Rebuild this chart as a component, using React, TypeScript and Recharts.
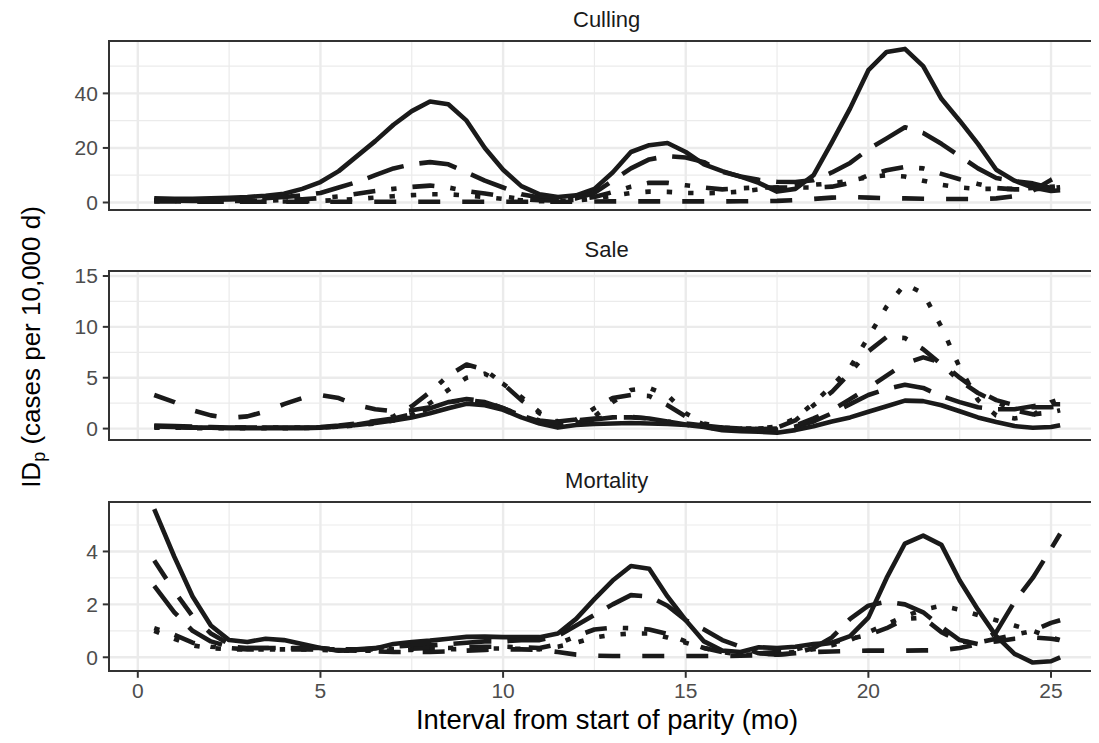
import React from 'react';
import { LineChart, Line, XAxis, YAxis, CartesianGrid } from 'recharts';

// Interval from start of parity (months)
const months = [
  0.45, 1, 1.5, 2, 2.5, 3, 3.5, 4, 4.5, 5,
  5.5, 6, 6.5, 7, 7.5, 8, 8.5, 9, 9.5, 10,
  10.5, 11, 11.5, 12, 12.5, 13, 13.5, 14, 14.5, 15,
  15.5, 16, 16.5, 17, 17.5, 18, 18.5, 19, 19.5, 20,
  20.5, 21, 21.5, 22, 22.5, 23, 23.5, 24, 24.5, 25,
  25.25,
];

// Culling
const cullingSolid = [
  1.5, 1.4, 1.4, 1.5, 1.7, 2.0, 2.5, 3.2, 5.0, 7.5,
  11.5, 17, 22.5, 28.5, 33.5, 37, 36, 30, 20, 12,
  6, 3, 2, 2.6, 5, 11, 18.5, 21, 21.8, 18.5,
  14, 11.5, 9.5, 7.2, 4.0, 5.0, 10, 22, 34.5, 48.5,
  55.2, 56.3, 50, 38, 30, 21.5, 12, 8, 5.5, 4.2,
  4.5,
];
const cullingLongdash = [
  1.0, 0.9, 0.9, 1.0, 1.1, 1.3, 1.6, 2.0, 2.6, 3.5,
  5.5, 7.5, 10, 12.5, 14, 14.8, 14, 11, 8, 5.5,
  3, 1.8, 1.3, 1.5, 3.5, 8, 12.5, 15.8, 17, 16.5,
  14.8, 11.3, 9.5, 8.3, 7.6, 7.5, 8.2, 11, 14.5, 19.5,
  23.5, 27.6, 25.5, 21.5, 17, 12.5, 9, 7.8, 7, 5.3,
  4.8,
];
const cullingDotdash = [
  0.8, 0.7, 0.6, 0.6, 0.6, 0.6, 0.7, 0.9, 1.2, 1.6,
  2.2, 3.2, 4.2, 5, 5.7, 6.2, 5.5, 4.2, 3.3, 2.2,
  1.3, 0.8, 0.7, 1.0, 2.0, 3.8, 5.8, 7.2, 7.2, 6.3,
  5.5, 4.8, 5.2, 5.5, 5.5, 5.5, 5.5, 5.8, 7.2, 10,
  11.8, 13, 12.5, 10.5, 8.5, 6.8, 5.3, 4.8, 4.8, 5.3,
  5.6,
];
const cullingDotted = [
  0.5, 0.4, 0.35, 0.3, 0.3, 0.3, 0.3, 0.35, 0.45, 0.6,
  0.9, 1.3, 1.8, 2.3, 2.7, 3.0, 3.0, 2.6, 2.0, 1.3,
  0.8, 0.5, 0.5, 0.7, 1.4, 2.5, 3.5, 4.0, 3.9, 3.5,
  3.4, 3.5, 4.0, 4.8, 5.5, 6.0, 6.5, 7.0, 8.0, 9.3,
  10.0, 9.5, 8.0, 6.5, 5.5, 5.0, 5.0, 5.0, 5.3, 5.8,
  6.0,
];
const cullingDashed = [
  0.4, 0.35, 0.3, 0.3, 0.3, 0.3, 0.3, 0.3, 0.3, 0.3,
  0.3, 0.3, 0.3, 0.3, 0.3, 0.3, 0.3, 0.3, 0.3, 0.3,
  0.3, 0.3, 0.3, 0.3, 0.35, 0.4, 0.4, 0.4, 0.4, 0.4,
  0.4, 0.4, 0.45, 0.5, 0.6, 0.9, 1.3, 1.8, 2.0, 1.8,
  1.6, 1.5, 1.4, 1.3, 1.3, 1.3, 1.5, 2.3, 4.3, 8.3,
  10,
];

// Sale
const saleSolid = [
  0.2, 0.15, 0.1, 0.1, 0.05, 0.05, 0.05, 0.05, 0.05, 0.1,
  0.2, 0.35, 0.55, 0.8, 1.1, 1.5, 2.0, 2.45, 2.3, 1.85,
  1.1, 0.5, 0.1, 0.35, 0.45, 0.5, 0.55, 0.5, 0.45, 0.35,
  0.15, -0.15, -0.25, -0.3, -0.4, -0.15, 0.23, 0.7, 1.1, 1.65,
  2.2, 2.75, 2.7, 2.3, 1.7, 1.1, 0.65, 0.25, 0.08, 0.15,
  0.33,
];
const saleLongdash = [
  0.3, 0.25, 0.2, 0.15, 0.1, 0.1, 0.1, 0.1, 0.1, 0.15,
  0.3, 0.5, 0.75, 1.0, 1.4, 2.0, 2.6, 2.8, 2.6, 2.0,
  1.3, 0.7, 0.4, 0.6, 0.9, 1.1, 1.15, 1.0, 0.7, 0.5,
  0.3, 0.1, 0.0, -0.05, -0.1, 0.2, 0.7, 1.5, 2.4, 3.3,
  3.9, 4.3, 4.0, 3.2, 2.6, 2.1, 1.9, 1.9, 2.2, 2.4,
  2.4,
];
const saleDotdash = [
  0.2, 0.15, 0.1, 0.1, 0.1, 0.1, 0.1, 0.1, 0.1, 0.1,
  0.2, 0.4, 0.7, 1.2, 2.2, 3.6, 5.2, 6.3, 5.8, 4.4,
  2.8, 1.5, 0.7, 0.9, 2.0, 3.0, 3.3, 3.2, 2.3, 1.2,
  0.4, 0.1, 0.0, 0.0, 0.1, 0.8, 2.3, 3.6, 5.5, 7.6,
  9.0, 8.9, 7.8, 6.3, 4.7, 3.5, 2.6, 1.8, 1.4, 1.6,
  1.8,
];
const saleDotted = [
  0.1, 0.1, 0.05, 0.05, 0.05, 0.05, 0.05, 0.05, 0.05, 0.1,
  0.2, 0.3, 0.5, 0.8, 1.4, 2.5, 3.8, 5.0, 5.4, 4.4,
  3.1, 1.6, 0.6, 0.5, 1.2, 2.6, 3.8, 4.0, 3.3, 1.5,
  0.5, 0.1, 0.0, 0.0, 0.2, 1.0, 2.5, 4.2, 6.0, 9.0,
  12.0, 14.2, 13.3, 10.0, 6.0, 2.8, 1.3, 1.0, 1.3, 2.6,
  2.9,
];
const saleDashed = [
  3.3, 2.6, 1.8, 1.3, 1.05, 1.2, 1.7, 2.4, 3.0, 3.3,
  3.0, 2.3, 1.9, 1.7, 1.8, 2.1, 2.6, 2.9, 2.7, 2.0,
  1.3, 0.8, 0.6, 0.8, 1.0, 1.1, 1.1, 1.0, 0.7, 0.4,
  0.1, 0.0, -0.05, -0.05, 0.0, 0.3, 1.0, 1.8, 2.9, 4.0,
  5.2, 6.4, 7.0, 6.5, 5.0, 3.7, 2.8, 2.3, 2.1, 2.1,
  2.2,
];

// Mortality
const mortalitySolid = [
  5.6, 3.8, 2.3, 1.2, 0.65, 0.58, 0.7, 0.65, 0.5, 0.35,
  0.25, 0.28, 0.33, 0.5, 0.58, 0.63, 0.7, 0.77, 0.78, 0.76,
  0.76, 0.76, 0.9, 1.45, 2.2, 2.9, 3.45, 3.35, 2.3, 1.4,
  0.6, 0.25, 0.2, 0.38, 0.35, 0.4, 0.5, 0.55, 0.8, 1.5,
  3.0, 4.3, 4.6, 4.25, 2.9, 1.8, 0.8, 0.13, -0.2, -0.15,
  0.0,
];
const mortalityLongdash = [
  2.7, 1.7, 1.0, 0.6, 0.4, 0.35, 0.35, 0.35, 0.35, 0.35,
  0.3, 0.3, 0.35, 0.4, 0.45, 0.45, 0.5, 0.55, 0.6, 0.6,
  0.65, 0.65, 0.8, 1.2, 1.6, 2.0, 2.35, 2.3, 1.95, 1.4,
  1.05, 0.65, 0.4, 0.15, 0.1, 0.15, 0.35, 0.75, 1.45, 1.95,
  2.1, 2.0, 1.7, 1.15, 0.65, 0.5, 0.95, 2.1, 3.0, 4.1,
  4.67,
];
const mortalityDotdash = [
  1.1, 0.85, 0.55, 0.4, 0.35, 0.3, 0.3, 0.3, 0.3, 0.3,
  0.3, 0.3, 0.3, 0.3, 0.32, 0.35, 0.35, 0.38, 0.4, 0.4,
  0.38, 0.35, 0.5, 0.8, 1.05, 1.12, 1.1, 1.05, 0.88, 0.6,
  0.35, 0.2, 0.15, 0.15, 0.2, 0.3, 0.45, 0.55, 0.7, 0.85,
  1.1, 1.45, 1.5, 0.95, 0.6, 0.55, 0.7, 0.85, 1.0, 1.3,
  1.4,
];
const mortalityDotted = [
  1.0, 0.7, 0.45, 0.35, 0.3, 0.3, 0.3, 0.3, 0.3, 0.28,
  0.25, 0.25, 0.25, 0.25, 0.28, 0.3, 0.3, 0.32, 0.33, 0.33,
  0.32, 0.3, 0.4, 0.55, 0.75, 0.85, 0.9, 0.9, 0.75, 0.55,
  0.35, 0.2, 0.1, 0.1, 0.15, 0.2, 0.3, 0.45, 0.65, 0.95,
  1.25, 1.55, 1.8, 1.95, 1.8, 1.6, 1.4, 1.2, 1.0, 0.75,
  0.65,
];
const mortalityDashed = [
  3.66, 2.5, 1.55, 0.9, 0.5, 0.35, 0.35, 0.35, 0.33, 0.3,
  0.27, 0.25, 0.22, 0.2, 0.2, 0.2, 0.22, 0.25, 0.28, 0.3,
  0.3, 0.28, 0.2, 0.1, 0.06, 0.05, 0.05, 0.05, 0.05, 0.05,
  0.05, 0.05, 0.06, 0.08, 0.1, 0.15, 0.2, 0.22, 0.24, 0.25,
  0.25, 0.25, 0.26, 0.27, 0.35, 0.5, 0.6, 0.7, 0.75, 0.7,
  0.65,
];

// Axes
const xMajorTicks = [0, 5, 10, 15, 20, 25];
const xMinorTicks = [2.5, 7.5, 12.5, 17.5, 22.5];
const X_DOMAIN: [number, number] = [-0.78, 26.45];

const cullingTicks = [0, 20, 40];
const cullingMinor = [10, 30, 50];
const saleTicks = [0, 5, 10, 15];
const saleMinor = [2.5, 7.5, 12.5];
const mortalityTicks = [0, 2, 4];
const mortalityMinor = [1, 3, 5];

const panelTitles = ['Culling', 'Sale', 'Mortality'];

const SERIES = [
  { key: 'solid', dash: undefined as string | undefined },
  { key: 'longdash', dash: '38 16' },
  { key: 'dotdash', dash: '5.4 16 22 16' },
  { key: 'dotted', dash: '5.4 16' },
  { key: 'dashed', dash: '22 22' },
];

function build(solid: number[], longdash: number[], dotdash: number[], dotted: number[], dashed: number[]) {
  return months.map((m, i) => ({
    month: m,
    solid: solid[i],
    longdash: longdash[i],
    dotdash: dotdash[i],
    dotted: dotted[i],
    dashed: dashed[i],
  }));
}

const cullingData = build(cullingSolid, cullingLongdash, cullingDotdash, cullingDotted, cullingDashed);
const saleData = build(saleSolid, saleLongdash, saleDotdash, saleDotted, saleDashed);
const mortalityData = build(mortalitySolid, mortalityLongdash, mortalityDotdash, mortalityDotted, mortalityDashed);

const FONT = '"Liberation Sans", Arial, Helvetica, sans-serif';
const PLOT_LEFT = 101.3;
const PLOT_W = 994.7;
const PLOT_H = 169.3;
const M_TOP = 12;
const M_BOTTOM = 14;
const TICK_LEN = 6.5;
const TICK_GAP = 5;

function Panel(props: {
  data: any[];
  top: number;
  domain: [number, number];
  ticks: number[];
  minor: number[];
  showX: boolean;
  title: string;
}) {
  const { data, top, domain, ticks, minor, showX, title } = props;
  const xH = showX ? 40 : 0;
  const mb = showX ? 0 : M_BOTTOM;
  return (
    <>
      <div
        style={{
          position: 'absolute',
          left: PLOT_LEFT,
          width: PLOT_W,
          top: top - 36,
          height: 30,
          lineHeight: '30px',
          textAlign: 'center',
          fontSize: 22,
          color: '#1A1A1A',
          fontFamily: FONT,
          whiteSpace: 'nowrap',
        }}
      >
        {title}
      </div>
      <div style={{ position: 'absolute', left: 0, top: top - M_TOP }}>
        <LineChart
          width={PLOT_LEFT + PLOT_W}
          height={M_TOP + PLOT_H + xH + mb}
          data={data}
          margin={{ top: M_TOP, right: 0, bottom: mb, left: 0 }}
        >
          <CartesianGrid
            stroke="#EBEBEB"
            strokeWidth={1.2}
            verticalValues={xMinorTicks}
            horizontalValues={minor}
          />
          <CartesianGrid
            stroke="#EBEBEB"
            strokeWidth={2.4}
            verticalValues={xMajorTicks}
            horizontalValues={ticks}
          />
          <XAxis
            type="number"
            dataKey="month"
            domain={X_DOMAIN}
            allowDataOverflow
            ticks={xMajorTicks}
            hide={!showX}
            height={xH}
            axisLine={false}
            tickSize={TICK_LEN}
            tickMargin={TICK_GAP}
            tickLine={{ stroke: '#333333', strokeWidth: 2 }}
            tick={{ fill: '#4D4D4D', fontSize: 21, fontFamily: FONT }}
            interval={0}
          />
          <YAxis
            type="number"
            domain={domain}
            allowDataOverflow
            ticks={ticks}
            width={PLOT_LEFT}
            axisLine={false}
            tickSize={TICK_LEN}
            tickMargin={TICK_GAP}
            tickLine={{ stroke: '#333333', strokeWidth: 2 }}
            tick={{ fill: '#4D4D4D', fontSize: 21, fontFamily: FONT }}
            interval={0}
          />
          {SERIES.map((s) => (
            <Line
              key={s.key}
              type="linear"
              dataKey={s.key}
              stroke="#1A1A1A"
              strokeWidth={4.6}
              strokeDasharray={s.dash}
              strokeLinejoin="round"
              strokeLinecap="butt"
              dot={false}
              activeDot={false}
              isAnimationActive={false}
            />
          ))}
        </LineChart>
      </div>
      <div
        style={{
          position: 'absolute',
          left: PLOT_LEFT - 1,
          top: top - 1,
          width: PLOT_W + 2,
          height: PLOT_H + 2,
          border: '2px solid #333333',
          boxSizing: 'border-box',
          pointerEvents: 'none',
        }}
      />
    </>
  );
}

const PANEL_TOPS = [32.7, 263, 493.5];
const CENTER_X = 599;

export default function App() {
  return (
    <div
      style={{
        position: 'relative',
        width: 1091,
        height: 727,
        overflow: 'hidden',
        background: '#FFFFFF',
        fontFamily: FONT,
      }}
    >
      <Panel data={cullingData} top={PANEL_TOPS[0]} domain={[-2.86, 59.2]} ticks={cullingTicks} minor={cullingMinor} showX={false} title={panelTitles[0]} />
      <Panel data={saleData} top={PANEL_TOPS[1]} domain={[-1.15, 15.49]} ticks={saleTicks} minor={saleMinor} showX={false} title={panelTitles[1]} />
      <Panel data={mortalityData} top={PANEL_TOPS[2]} domain={[-0.53, 5.87]} ticks={mortalityTicks} minor={mortalityMinor} showX={true} title={panelTitles[2]} />
      <svg
        width={1091}
        height={727}
        style={{ position: 'absolute', left: 0, top: 0, pointerEvents: 'none' }}
      >
        <text x={CENTER_X} y={721} fontFamily={FONT} fontSize={27.4} fill="#000000" textAnchor="middle">
          Interval from start of parity (mo)
        </text>
        <text
          transform="translate(32,339) rotate(-90)"
          fontFamily={FONT}
          fontSize={26}
          fill="#000000"
          textAnchor="middle"
        >
          ID<tspan fontSize={18} dy={5}>p</tspan>
          <tspan dy={-5}> (cases per 10,000 d)</tspan>
        </text>
      </svg>
    </div>
  );
}
